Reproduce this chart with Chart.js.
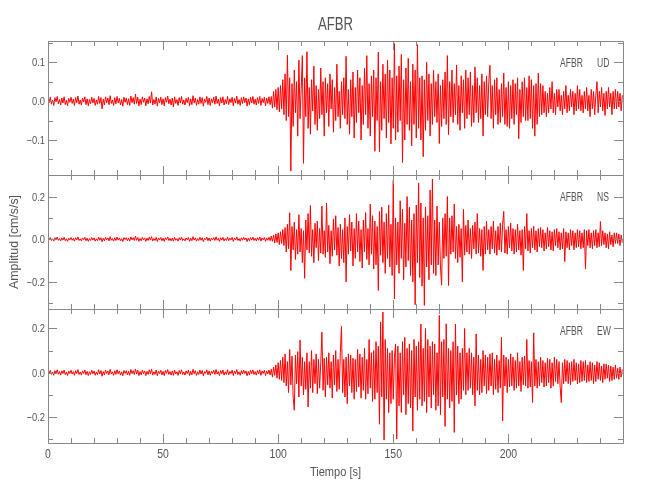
<!DOCTYPE html>
<html>
<head>
<meta charset="utf-8">
<script src="https://cdn.jsdelivr.net/npm/chart.js@4.4.0/dist/chart.umd.min.js"></script>
<style>html,body{margin:0;padding:0;background:#fff}</style>
</head>
<body>
<canvas id="sismo" width="650" height="500"></canvas>
<script>
// Estacion y componentes
const estacion = 'AFBR';
const componentes = ['UD', 'NS', 'EW'];

// Muestreo cada 0.5 s; el tramo del sismo empieza en t=97 s
const dt = 0.5;
const activeStart = 97;

// Ejes
const xMax = 249.8;
const xTickValues = [0, 50, 100, 150, 200];
const xMajor = 50, xMinor = 10;
const yMin = [-0.19, -0.327, -0.318];
const yMax = [0.1546, 0.301, 0.288];
const yTickValues = [[-0.1, 0, 0.1], [-0.2, 0, 0.2], [-0.2, 0, 0.2]];
const yMajor = [0.1, 0.2, 0.2];
const yMinor = [0.05, 0.1, 0.1];

// UD [cm/s/s]
const udQuiet = [
  .006,-.004,.010,-.008,.003,-.011,.009,-.002,.012,-.007,
  .004,-.010,.008,-.005,.011,-.009,.002,-.012,.007,-.003,
  .010,-.006,.005,-.011,.009,-.004,.013,-.008,.003,-.010,
  .008,-.002,.011,-.009,.006,-.012,.004,-.007,.010,-.005,
  .007,-.011,.003,-.008,.012,-.006,.009,-.020,.005,-.010,
  .011,-.004,.008,-.009,.014,-.006,.003,-.011,.009,-.007,
  .012,-.005,.007,-.010,.004,-.013,.010,-.003,.008,-.009,
  .006,-.011,.013,-.004,.009,-.008,.018,-.006,.010,-.012,
  .005,-.009,.011,-.003,.008,-.012,.006,-.007,.012,-.005,
  .024,-.010,.004,-.008,.011,-.013,.007,-.004,.010,-.009,
  .006,-.012,.009,-.003,.013,-.007,.005,-.010,.008,-.015,
  .011,-.006,.004,-.011,.009,-.005,.012,-.008,.003,-.010,
  .007,-.004,.010,-.012,.006,-.009,.014,-.005,.008,-.011,
  .004,-.008,.011,-.006,.009,-.013,.005,-.003,.012,-.009,
  .008,-.011,.006,-.004,.010,-.008,.013,-.006,.005,-.012,
  .009,-.005,.011,-.010,.004,-.007,.012,-.009,.006,-.004,
  .010,-.012,.007,-.005,.013,-.008,.004,-.011,.009,-.006,
  .011,-.004,.008,-.013,.006,-.009,.010,-.005,.012,-.008,
  .005,-.010,.009,-.006,.012,-.011,.007,-.004,.010,-.012,
  .008,-.006,.011,-.009
];
const udActive = [
  .012,-.018,.025,-.015,.030,-.022,.035,-.028,.040,-.020,
  .055,-.035,.070,-.050,.118,-.040,.060,-.180,.045,-.065,
  .080,-.030,.050,-.090,.105,-.045,.030,.117,-.160,.060,
  -.040,.127,-.070,.035,-.085,.055,-.025,.090,-.060,.040,
  -.075,.030,-.045,.085,-.035,.050,-.090,.060,-.030,.045,
  -.065,.070,-.020,.055,-.080,.035,-.050,.095,-.040,.025,
  -.070,.050,-.035,.060,-.045,.115,-.060,.030,-.085,.055,
  -.040,.075,-.095,.035,-.055,.080,-.030,.060,-.100,.040,
  -.060,.085,-.035,.117,-.070,.045,-.090,.065,-.040,.080,
  -.129,.060,-.050,.126,-.130,.050,-.075,.095,-.045,.070,
  -.095,.105,-.055,.080,-.110,.060,-.070,.148,-.100,.065,
  -.080,.090,-.050,.120,-.158,.055,-.100,.085,-.060,.110,
  -.075,.050,-.115,.095,-.060,.080,-.095,.145,-.070,.060,
  -.100,.065,-.143,.055,-.075,.100,-.050,.070,-.090,.045,
  -.060,.080,-.040,.050,-.055,.070,-.109,.040,-.065,.055,
  -.045,.075,-.060,.117,-.086,.050,-.040,.080,-.055,.045,
  -.035,.093,-.060,.040,-.075,.065,-.030,.055,-.070,.080,
  -.045,.060,-.035,.075,-.065,.040,-.055,.088,-.030,.060,
  -.055,.040,-.045,.070,-.090,.050,-.035,.065,-.040,.050,
  .092,-.045,.040,-.070,.055,-.035,.060,-.060,.030,-.055,
  .045,-.040,.072,-.060,.035,-.065,.050,-.070,.040,-.045,
  .055,-.060,.045,-.035,.060,-.097,.030,-.055,.050,-.040,
  .060,-.050,.035,-.050,.065,-.045,.055,-.070,.040,-.090,
  .045,-.060,.072,-.040,.045,-.035,.040,-.030,.025,-.040,
  .020,-.030,.035,-.020,.050,-.030,.020,-.035,.030,-.015,
  .030,-.025,.015,-.035,.025,-.020,.040,-.030,.015,-.025,
  .030,-.015,.025,-.035,.020,-.025,.040,-.020,.030,-.025,
  .015,-.030,.025,-.020,.035,-.025,.015,-.040,.030,-.020,
  .025,-.035,.015,.050,-.030,.025,-.015,.035,-.025,.020,
  -.037,.025,-.020,.035,-.015,.020,-.035,.025,-.020,.030,
  -.020,.025,-.015,.020,-.025,.015
];

// NS [cm/s/s]
const nsQuiet = [
  .005,-.003,.008,-.006,.002,-.009,.007,-.002,.010,-.005,
  .003,-.008,.006,-.004,.009,-.007,.002,-.010,.005,-.003,
  .008,-.005,.004,-.009,.007,-.003,.011,-.006,.002,-.008,
  .006,-.002,.009,-.007,.005,-.010,.003,-.006,.008,-.004,
  .006,-.009,.002,-.007,.010,-.005,.007,-.012,.004,-.008,
  .009,-.003,.006,-.008,.012,-.005,.003,-.009,.007,-.006,
  .010,-.004,.006,-.008,.003,-.011,.008,-.002,.007,-.007,
  .005,-.009,.011,-.003,.007,-.006,.014,-.005,.008,-.010,
  .004,-.007,.009,-.003,.006,-.010,.005,-.006,.010,-.004,
  .012,-.008,.003,-.006,.009,-.011,.006,-.003,.008,-.007,
  .005,-.010,.007,-.002,.011,-.006,.004,-.008,.006,-.009,
  .009,-.005,.003,-.009,.007,-.004,.010,-.006,.002,-.008,
  .006,-.003,.008,-.010,.005,-.007,.012,-.004,.006,-.009,
  .003,-.006,.009,-.005,.007,-.011,.004,-.002,.010,-.007,
  .006,-.009,.005,-.003,.008,-.006,.011,-.005,.004,-.010,
  .007,-.004,.009,-.008,.003,-.006,.010,-.007,.005,-.003,
  .008,-.010,.006,-.004,.011,-.006,.003,-.009,.007,-.005,
  .009,-.003,.006,-.011,.005,-.007,.008,-.004,.010,-.006,
  .004,-.008,.007,-.005,.010,-.009,.006,-.003,.008,-.010,
  .006,-.005,.009,-.007
];
const nsActive = [
  .015,-.010,.020,-.018,.025,-.015,.030,-.025,.035,-.020,
  .045,-.030,.055,-.060,.070,-.045,.124,-.147,.060,-.050,
  .080,-.095,.045,-.070,.115,-.060,.050,-.110,.040,-.183,
  .090,-.050,.120,-.065,.158,-.080,.045,-.110,.075,-.040,
  .085,-.100,.050,-.065,.155,-.070,.040,-.085,.170,-.060,
  .065,-.115,.040,-.080,.095,-.050,.110,-.075,.055,-.125,
  .070,-.090,.045,-.110,.100,-.200,.060,-.070,.115,-.055,
  .080,-.125,.050,-.090,.120,-.060,.085,-.105,.045,-.135,
  .090,-.060,.125,-.095,.050,-.120,.165,-.070,.110,-.140,
  .085,-.120,.060,-.240,.130,-.075,.150,-.110,.080,-.160,
  .120,-.090,.160,-.130,.070,-.170,.276,-.280,.100,-.120,
  .080,-.160,.180,-.090,.140,-.190,.075,-.130,.200,-.100,
  .150,-.170,.090,-.200,.120,-.307,.160,-.110,.264,-.180,
  .170,-.220,.100,-.310,.150,-.130,.110,-.190,.230,-.120,
  .282,-.160,.090,-.170,.155,-.120,.080,-.130,-.215,.100,
  -.090,.120,-.080,.200,-.217,.100,-.070,.110,-.060,.165,
  -.090,.060,-.110,.070,-.085,.050,-.200,.140,-.075,.065,
  -.060,.090,-.070,.050,-.090,.065,-.045,.080,-.070,.120,
  -.065,.050,-.080,.045,-.146,.060,-.070,.085,-.050,.045,
  -.070,.060,-.045,.085,-.065,.040,-.075,.060,-.050,.075,
  -.060,.070,.130,-.065,.045,-.070,.060,-.040,.075,-.055,
  .050,-.070,.045,-.060,.070,-.050,.040,-.075,.045,-.146,
  .060,-.045,.120,-.055,.040,-.065,.050,-.040,.060,-.050,
  .040,-.060,.050,-.035,.055,-.040,.045,-.055,.030,-.045,
  .055,-.035,.040,-.050,.035,-.055,.045,-.030,.050,-.040,
  .035,-.050,.030,-.045,.050,-.105,.035,-.040,.030,-.050,
  .045,-.030,.040,-.050,.030,-.040,.045,-.035,.040,-.045,
  .030,-.040,.045,-.140,.040,-.030,.045,-.040,.030,-.045,
  .040,-.030,.045,-.040,.030,-.035,.083,-.030,.040,-.025,
  .030,-.040,.025,-.045,.035,-.025,.020,-.035,.030,-.020,
  .030,-.020,.025,-.030,.020,-.015
];

// EW [cm/s/s]
const ewQuiet = [
  .006,-.005,.011,-.008,.003,-.012,.009,-.003,.013,-.007,
  .005,-.011,.008,-.004,.012,-.009,.003,-.013,.007,-.004,
  .011,-.006,.005,-.012,.009,-.004,.014,-.008,.003,-.011,
  .008,-.003,.012,-.009,.006,-.013,.004,-.008,.011,-.005,
  .008,-.012,.003,-.009,.013,-.006,.010,-.016,.005,-.011,
  .012,-.004,.008,-.010,.015,-.006,.004,-.012,.009,-.008,
  .013,-.005,.008,-.011,.004,-.014,.010,-.003,.009,-.010,
  .006,-.012,.014,-.004,.009,-.008,.017,-.006,.011,-.013,
  .005,-.010,.012,-.004,.008,-.013,.006,-.008,.013,-.005,
  .016,-.011,.004,-.008,.012,-.014,.007,-.004,.011,-.010,
  .006,-.013,.010,-.003,.014,-.008,.005,-.011,.008,-.012,
  .012,-.006,.004,-.012,.010,-.005,.013,-.008,.003,-.011,
  .008,-.004,.011,-.013,.006,-.010,.015,-.005,.009,-.012,
  .004,-.008,.012,-.006,.010,-.014,.005,-.003,.013,-.010,
  .008,-.012,.006,-.004,.011,-.008,.014,-.006,.005,-.013,
  .010,-.005,.012,-.011,.004,-.008,.013,-.010,.006,-.004,
  .011,-.013,.008,-.005,.014,-.008,.004,-.012,.010,-.006,
  .012,-.004,.008,-.014,.006,-.010,.011,-.005,.013,-.008,
  .005,-.011,.010,-.006,.013,-.012,.008,-.004,.011,-.013,
  .008,-.006,.012,-.010
];
const ewActive = [
  .015,-.020,.025,-.012,.035,-.025,.045,-.030,.055,-.035,
  .070,-.045,.085,-.060,.050,-.090,.105,-.055,.075,-.110,
  -.170,.080,-.050,.095,-.110,.147,-.060,.070,-.100,.050,
  -.075,.090,-.155,.050,-.070,.100,-.090,.060,-.050,.085,
  -.095,.060,-.070,.045,.183,-.080,.065,-.110,.070,-.055,
  .090,-.070,.050,-.115,.080,-.055,.100,-.085,.060,-.075,
  .090,.209,-.090,.060,-.110,.070,-.140,.085,-.060,.080,
  -.090,.065,-.120,.060,-.085,.105,-.065,.085,-.115,.070,
  -.080,.110,-.120,.060,-.095,.150,-.070,.090,-.130,.100,
  -.120,.140,-.090,.120,-.233,.229,-.110,.274,-.305,.150,
  -.120,.110,-.180,.090,-.140,.100,-.120,.070,.130,-.300,
  .120,-.150,.090,-.180,.140,-.100,.160,-.190,.110,-.140,
  .130,-.160,.100,-.264,.150,-.110,.120,-.170,.140,-.120,
  .220,-.150,.110,-.130,.200,-.180,.150,-.110,.120,-.160,
  .140,-.100,.130,-.170,.090,-.150,.259,-.190,.140,-.110,
  .150,-.243,.221,-.120,.110,-.160,.100,-.130,.140,-.270,
  .220,-.100,.120,-.140,.090,-.120,.110,-.080,.200,-.100,
  .090,-.080,.110,-.070,.090,-.100,.070,-.150,.175,-.080,
  .080,-.100,.060,-.090,.100,-.060,.080,-.095,.070,-.080,
  .085,-.060,.090,-.100,.060,-.075,.080,-.090,.055,-.070,
  .160,-.218,.080,-.060,.070,-.090,.060,-.065,.085,-.060,
  .070,-.080,.055,-.070,.090,-.060,.050,-.085,.070,-.055,
  .075,-.060,.150,-.070,.055,-.065,.050,-.135,.180,-.060,
  .060,-.070,.050,-.060,.070,-.045,.055,-.065,.045,-.060,
  .065,-.045,.060,-.070,.045,-.060,.070,-.040,.060,-.050,
  .050,-.065,-.135,.045,-.050,.060,-.040,.055,-.050,.045,
  -.055,.050,-.040,.060,-.035,.045,-.050,.040,-.045,.055,
  -.040,.050,-.035,.055,-.045,.035,-.040,.050,-.035,.045,
  -.050,.035,-.040,.050,-.030,.045,-.035,.030,-.045,.040,
  -.030,.040,-.025,.035,-.040,.030,-.035,.025,-.030,.035,
  -.025,.020,-.030,.025,-.020,.015
];

const FONT = "'Liberation Sans', Arial, sans-serif";
const TXT = '#555';
const AXIS = '#888';

function toPoints(quiet, active) {
  const pts = quiet.map((v, i) => ({ x: i * dt, y: v }));
  active.forEach((v, i) => pts.push({ x: activeStart + i * dt, y: v }));
  return pts;
}

const series = [toPoints(udQuiet, udActive), toPoints(nsQuiet, nsActive), toPoints(ewQuiet, ewActive)];
const axisIds = ['yUD', 'yNS', 'yEW'];

function fmt(v) {
  return (v < 0 ? '\u2212' : '') + Math.abs(v).toFixed(1);
}

// texto angosto tipo Hershey (comprimido en x)
function texto(ctx, str, x, y, size, align, sx, rot) {
  ctx.save();
  ctx.translate(x, y);
  if (rot) ctx.rotate(rot);
  ctx.scale(sx, 1);
  ctx.font = size + 'px ' + FONT;
  ctx.fillStyle = TXT;
  ctx.textAlign = align;
  ctx.textBaseline = 'alphabetic';
  ctx.fillText(str, 0, 0);
  ctx.restore();
}

function yAxis(i) {
  return {
    type: 'linear',
    position: 'left',
    stack: 'sismo',
    stackWeight: 1,
    min: yMin[i],
    max: yMax[i],
    grid: { display: false, drawTicks: false },
    border: { display: false },
    ticks: { display: false },
    afterFit(s) { s.width = 48; }
  };
}

// marco estilo IDL: cajas, ticks mayores/menores y textos
const marco = {
  id: 'marco',
  afterDraw(chart) {
    const ctx = chart.ctx;
    const xs = chart.scales.x;
    const L = chart.chartArea.left, R = chart.chartArea.right;
    ctx.save();
    ctx.strokeStyle = AXIS;
    ctx.lineWidth = 1;
    axisIds.forEach((id, i) => {
      const s = chart.scales[id];
      const T = s.top, B = s.bottom;
      ctx.beginPath();
      ctx.rect(Math.round(L) + 0.5, Math.round(T) + 0.5, Math.round(R - L), Math.round(B - T));
      for (let k = 0; k * xMinor <= xMax; k++) {
        const px = Math.round(xs.getPixelForValue(k * xMinor)) + 0.5;
        const len = (k * xMinor) % xMajor === 0 ? 9 : 5;
        ctx.moveTo(px, B); ctx.lineTo(px, B - len);
        ctx.moveTo(px, T); ctx.lineTo(px, T + len);
      }
      const ratio = Math.round(yMajor[i] / yMinor[i]);
      for (let k = Math.ceil(yMin[i] / yMinor[i]); k * yMinor[i] <= yMax[i]; k++) {
        const py = Math.round(s.getPixelForValue(k * yMinor[i])) + 0.5;
        const len = k % ratio === 0 ? 9 : 5;
        ctx.moveTo(L, py); ctx.lineTo(L + len, py);
        ctx.moveTo(R, py); ctx.lineTo(R - len, py);
      }
      ctx.stroke();

      yTickValues[i].forEach(v => {
        texto(ctx, fmt(v), L - 3, s.getPixelForValue(v) + 4, 11, 'right', 0.85);
      });
      texto(ctx, estacion, R - 40, T + 26, 13, 'right', 0.66);
      texto(ctx, componentes[i], R - 26, T + 26, 13, 'left', 0.66);
    });

    const B = chart.chartArea.bottom;
    xTickValues.forEach(v => {
      texto(ctx, String(v), xs.getPixelForValue(v), B + 14.5, 12, 'center', 0.87);
    });

    const cx = (L + R) / 2;
    texto(ctx, estacion, cx, 30, 18, 'center', 0.73);
    texto(ctx, 'Tiempo [s]', cx, 476, 13, 'center', 0.85);
    texto(ctx, 'Amplitud [cm/s/s]', 18, (chart.chartArea.top + B) / 2, 13, 'center', 0.95, -Math.PI / 2);
    ctx.restore();
  }
};

new Chart(document.getElementById('sismo'), {
  type: 'line',
  data: {
    datasets: series.map((d, i) => ({
      label: estacion + ' ' + componentes[i],
      data: d,
      xAxisID: 'x',
      yAxisID: axisIds[i],
      borderColor: '#ff0000',
      borderWidth: 1,
      pointRadius: 0,
      tension: 0,
      fill: false
    }))
  },
  options: {
    responsive: false,
    animation: false,
    devicePixelRatio: 1,
    events: [],
    layout: { padding: { left: 0, right: 27, top: 41, bottom: 27 } },
    plugins: { legend: { display: false }, tooltip: { enabled: false } },
    scales: {
      x: {
        type: 'linear',
        position: 'bottom',
        min: 0,
        max: xMax,
        grid: { display: false, drawTicks: false },
        border: { display: false },
        ticks: { display: false },
        afterFit(s) { s.height = 30; }
      },
      // el ultimo eje declarado queda arriba en la pila
      yEW: yAxis(2),
      yNS: yAxis(1),
      yUD: yAxis(0)
    }
  },
  plugins: [marco]
});
</script>
</body>
</html>
